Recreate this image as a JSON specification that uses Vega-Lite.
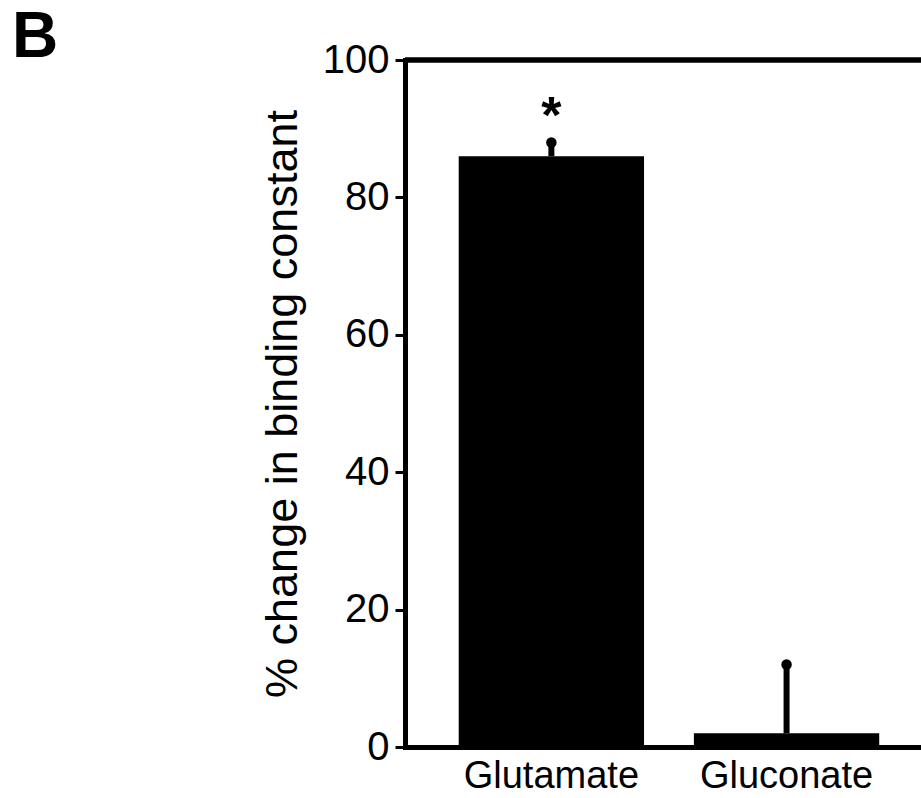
{
  "$schema": "https://vega.github.io/schema/vega-lite/v6.json",
  "autosize": "none",
  "width": 516,
  "height": 687,
  "padding": {"left": 405, "top": 60, "right": 0, "bottom": 51},
  "background": "white",
  "config": {
    "font": "Liberation Sans",
    "view": {"stroke": null},
    "axis": {"grid": false, "domainColor": "black", "tickColor": "black", "labelColor": "black", "titleColor": "black", "labelFont": "Liberation Sans", "titleFont": "Liberation Sans", "titleFontWeight": "normal"}
  },
  "title": {
    "text": "B",
    "anchor": "start",
    "frame": "group",
    "dx": -393,
    "dy": 34,
    "fontSize": 64,
    "fontWeight": "bold",
    "color": "black",
    "font": "Liberation Sans"
  },
  "data": {
    "values": [
      {"anion": "Glutamate", "change": 86, "upper": 88, "sig": "*"},
      {"anion": "Gluconate", "change": 2, "upper": 12, "sig": ""}
    ]
  },
  "layer": [
    {
      "mark": {"type": "bar", "color": "black"},
      "encoding": {
        "x": {
          "field": "anion",
          "type": "nominal",
          "sort": ["Glutamate", "Gluconate"],
          "scale": {"paddingInner": 0.212, "paddingOuter": 0.203, "align": 0.5625},
          "axis": {
            "title": null,
            "labelAngle": 0,
            "labelFontSize": 38,
            "labelPadding": 10,
            "ticks": false,
            "domainWidth": 5,
            "domainCap": "square"
          }
        },
        "y": {
          "field": "change",
          "type": "quantitative",
          "scale": {"domain": [0, 100], "nice": false},
          "axis": {
            "title": "% change in binding constant",
            "titleFontSize": 45,
            "titlePadding": 17,
            "values": [0, 20, 40, 60, 80, 100],
            "labelFontSize": 40,
            "labelPadding": 6,
            "tickSize": 10,
            "tickWidth": 3,
            "domainWidth": 5,
            "domainCap": "square"
          }
        }
      }
    },
    {
      "mark": {"type": "rule", "color": "black", "strokeWidth": 5},
      "encoding": {"y": {"datum": 100, "type": "quantitative"}}
    },
    {
      "mark": {"type": "rule", "color": "black", "strokeWidth": 6},
      "encoding": {
        "x": {"field": "anion", "type": "nominal", "sort": ["Glutamate", "Gluconate"]},
        "y": {"field": "change", "type": "quantitative"},
        "y2": {"field": "upper"}
      }
    },
    {
      "mark": {"type": "point", "shape": "circle", "filled": true, "color": "black", "opacity": 1, "size": 110},
      "encoding": {
        "x": {"field": "anion", "type": "nominal", "sort": ["Glutamate", "Gluconate"]},
        "y": {"field": "upper", "type": "quantitative"}
      }
    },
    {
      "mark": {"type": "text", "color": "black", "fontSize": 52, "fontWeight": "bold", "baseline": "alphabetic", "dy": -9},
      "encoding": {
        "x": {"field": "anion", "type": "nominal", "sort": ["Glutamate", "Gluconate"]},
        "y": {"field": "upper", "type": "quantitative"},
        "text": {"field": "sig"}
      }
    }
  ]
}
